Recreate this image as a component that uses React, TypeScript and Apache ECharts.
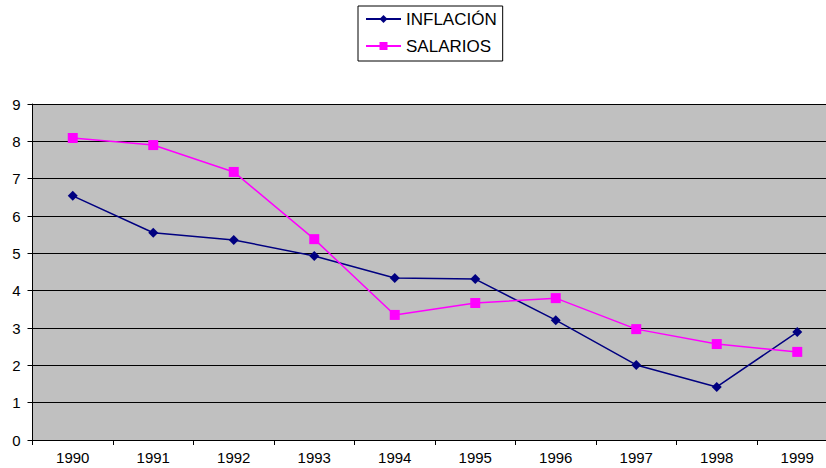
import React, { useEffect, useRef } from "react";
import * as echarts from "echarts";

const categories = ["1990", "1991", "1992", "1993", "1994", "1995", "1996", "1997", "1998", "1999"];
const inflacion = [6.54, 5.55, 5.36, 4.93, 4.34, 4.31, 3.21, 2.01, 1.42, 2.89];
const salarios = [8.09, 7.9, 7.18, 5.38, 3.35, 3.67, 3.8, 2.97, 2.57, 2.36];
const yTicks = { min: 0, max: 9, interval: 1 };

export default function App() {
  const ref = useRef<HTMLDivElement>(null);
  useEffect(() => {
    if (!ref.current) return;
    const chart = echarts.init(ref.current, null, { renderer: "svg" });
    const font = "'Liberation Sans', Arial, sans-serif";
    chart.setOption({
      animation: false,
      backgroundColor: "#ffffff",
      textStyle: { fontFamily: font },
      legend: {
        orient: "vertical",
        left: 358,
        top: 6,
        itemWidth: 35,
        itemHeight: 10,
        itemGap: 10,
        itemStyle: { borderWidth: 0 },
        padding: [4.5, 6, 6.5, 7],
        borderColor: "#000",
        borderWidth: 1,
        backgroundColor: "#fff",
        textStyle: { fontFamily: font, fontSize: 17, color: "#000" },
        data: ["INFLACIÓN", "SALARIOS"],
      },
      grid: { left: 32.5, right: 2.5, top: 104, bottom: 28, show: true, backgroundColor: "#c0c0c0", borderWidth: 0 },
      xAxis: {
        type: "category",
        data: categories,
        boundaryGap: true,
        axisLine: { lineStyle: { color: "#000", width: 1 } },
        axisTick: { show: true, length: 5, lineStyle: { color: "#000" } },
        axisLabel: { color: "#000", fontSize: 15, fontFamily: font, margin: 10 },
        splitLine: { show: false },
      },
      yAxis: {
        type: "value",
        min: yTicks.min,
        max: yTicks.max,
        interval: yTicks.interval,
        axisLine: { show: true, lineStyle: { color: "#000", width: 1 } },
        axisTick: { show: true, length: 5, lineStyle: { color: "#000" } },
        axisLabel: { color: "#000", fontSize: 15, fontFamily: font, margin: 12 },
        splitLine: { show: true, lineStyle: { color: "#000", width: 1 } },
      },
      series: [
        {
          name: "INFLACIÓN",
          type: "line",
          data: inflacion,
          symbol: "diamond",
          symbolSize: 10,
          itemStyle: { color: "#000080" },
          lineStyle: { color: "#000080", width: 1.5 },
        },
        {
          name: "SALARIOS",
          type: "line",
          data: salarios,
          symbol: "rect",
          symbolSize: 10,
          itemStyle: { color: "#ff00ff" },
          lineStyle: { color: "#ff00ff", width: 1.5 },
        },
      ],
    });
    return () => chart.dispose();
  }, []);
  return (
    <div style={{ position: "absolute", left: 0, top: 0, width: 826, height: 468, overflow: "hidden" }}>
      <div ref={ref} style={{ width: 840, height: 468 }} />
    </div>
  );
}
